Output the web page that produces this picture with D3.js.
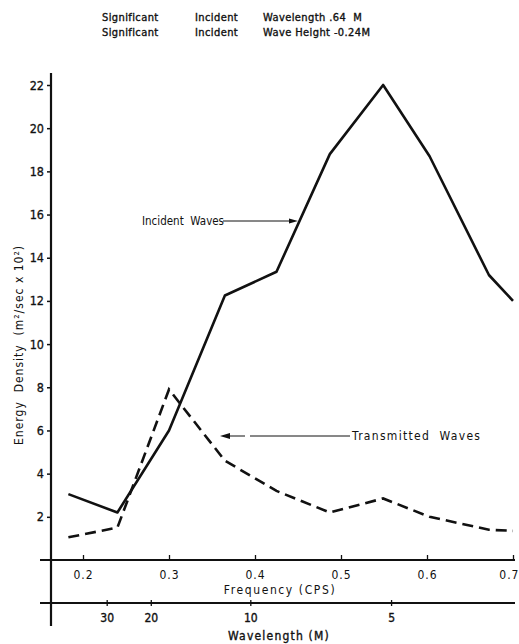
<!DOCTYPE html>
<html>
<head>
<meta charset="utf-8">
<script src="https://cdn.jsdelivr.net/npm/d3@7"></script>
<style>
  html, body { margin: 0; padding: 0; background: #fff; }
  svg { display: block; }
  text { font-family: "DejaVu Sans Condensed", "Liberation Sans Narrow", "DejaVu Sans", sans-serif; fill: #111; white-space: pre; }
</style>
</head>
<body>
<script>
// ---- data ----
const frequencies = [0.183, 0.24, 0.30, 0.365, 0.425, 0.487, 0.549, 0.603, 0.672, 0.70];
const incidentWaves = [3.05, 2.2, 6.0, 12.25, 13.35, 18.8, 22.0, 18.7, 13.2, 12.0];
const transmittedWaves = [1.05, 1.5, 7.9, 4.6, 3.2, 2.2, 2.85, 2.0, 1.4, 1.35];
const freqTicks = [0.2, 0.3, 0.4, 0.5, 0.6, 0.7];
const freqTickLabels = ["0.2", "0.3", "0.4", "0.5", "0.6", "0.7"];
const energyTicks = [2, 4, 6, 8, 10, 12, 14, 16, 18, 20, 22];
const wavelengthTicks = [30, 20, 10, 5];
const titleLines = [
  ["Significant", "Incident", "Wavelength .64  M"],
  ["Significant", "Incident", "Wave Height -0.24M"]
];

const W = 519, H = 644;
const svg = d3.select("body").append("svg").attr("width", W).attr("height", H);

const x = d3.scaleLinear().domain([0.2, 0.7]).range([83, 513]);
const y = d3.scaleLinear().domain([0, 22]).range([560, 85]);
// deep-water dispersion: L = g / (2 pi f^2)
const freqOfWavelength = L => Math.sqrt(9.81 / (2 * Math.PI * L));

const ink = "#111";
const axisX0 = 51;

// title
const titleX = [102, 195, 263];
titleLines.forEach((line, i) => {
  line.forEach((w, j) => {
    svg.append("text").attr("x", titleX[j]).attr("y", 21 + i * 15)
      .attr("font-size", 11).attr("stroke", ink).attr("stroke-width", 0.35)
      .attr("letter-spacing", 0.4).text(w);
  });
});

// y axis
svg.append("line").attr("x1", axisX0).attr("x2", axisX0).attr("y1", 73).attr("y2", 626)
  .attr("stroke", ink).attr("stroke-width", 2.2);
const yAxis = d3.axisLeft(y).tickValues(energyTicks).tickSize(4).tickPadding(3).tickFormat(d3.format("d"));
const gy = svg.append("g").attr("transform", `translate(${axisX0},0)`).call(yAxis);
gy.select(".domain").remove();
gy.selectAll(".tick line").attr("stroke", ink).attr("stroke-width", 1.5);
gy.selectAll(".tick text").attr("font-size", 12.5).attr("fill", ink)
  .attr("stroke", ink).attr("stroke-width", 0.3)
  .style("font-family", '"DejaVu Sans Condensed", sans-serif');

svg.append("text")
  .attr("transform", "translate(23,345) rotate(-90)")
  .attr("text-anchor", "middle").attr("font-size", 12).attr("letter-spacing", 1)
  .text("Energy  Density  (m²/sec x 10²)");

// frequency axis
svg.append("line").attr("x1", 40).attr("x2", 515).attr("y1", 560).attr("y2", 560)
  .attr("stroke", ink).attr("stroke-width", 2);
const xAxis = d3.axisTop(x).tickValues(freqTicks).tickSize(5).tickFormat((d, i) => freqTickLabels[i]);
const gx = svg.append("g").attr("transform", "translate(0,560)").call(xAxis);
gx.select(".domain").remove();
gx.selectAll(".tick line").attr("stroke", ink).attr("stroke-width", 1.3);
gx.selectAll(".tick text").attr("font-size", 12).attr("fill", ink)
  .attr("y", 19).attr("dy", 0).attr("letter-spacing", 1)
  .style("font-family", '"DejaVu Sans Condensed", sans-serif');
gx.selectAll(".tick").filter(d => d === 0.7).select("text").attr("text-anchor", "end").attr("x", 6);
svg.append("text").attr("x", 280).attr("y", 594).attr("text-anchor", "middle")
  .attr("font-size", 12).attr("letter-spacing", 1.6).text("Frequency (CPS)");

// wavelength axis
svg.append("line").attr("x1", 40).attr("x2", 515).attr("y1", 603).attr("y2", 603)
  .attr("stroke", ink).attr("stroke-width", 2);
const xw = d3.scaleLinear().domain([0.2, 0.7]).range([83, 513]);
const gw = svg.append("g").attr("transform", "translate(0,603)");
gw.selectAll("line.t").data(wavelengthTicks).join("line").attr("class", "t")
  .attr("x1", d => xw(freqOfWavelength(d))).attr("x2", d => xw(freqOfWavelength(d)))
  .attr("y1", -3).attr("y2", 3).attr("stroke", ink).attr("stroke-width", 1.3);
gw.selectAll("text").data(wavelengthTicks).join("text")
  .attr("x", d => xw(freqOfWavelength(d))).attr("y", 19).attr("text-anchor", "middle")
  .attr("font-size", 12).attr("stroke", ink).attr("stroke-width", 0.35).text(d => d);
svg.append("text").attr("x", 279).attr("y", 640).attr("text-anchor", "middle")
  .attr("font-size", 12).attr("letter-spacing", 1.2).attr("stroke", ink).attr("stroke-width", 0.35)
  .text("Wavelength (M)");

// series
const line = d3.line().x((d, i) => x(frequencies[i])).y(d => y(d));
svg.append("path").datum(incidentWaves).attr("d", line)
  .attr("fill", "none").attr("stroke", ink).attr("stroke-width", 2.6).attr("stroke-linejoin", "round");
svg.append("path").datum(transmittedWaves).attr("d", line)
  .attr("fill", "none").attr("stroke", ink).attr("stroke-width", 2.6)
  .attr("stroke-dasharray", "11,6");

// annotations
svg.append("text").attr("x", 142).attr("y", 225).attr("font-size", 11.5).text("Incident  Waves");
svg.append("line").attr("x1", 223).attr("x2", 292).attr("y1", 221).attr("y2", 221)
  .attr("stroke", ink).attr("stroke-width", 1);
svg.append("path").attr("d", "M298,221 L289,218.5 L289,223.5 Z").attr("fill", ink);

svg.append("text").attr("x", 352).attr("y", 440).attr("font-size", 12).attr("letter-spacing", 1.3)
  .text("Transmitted  Waves");
svg.append("line").attr("x1", 350).attr("x2", 228).attr("y1", 436).attr("y2", 436)
  .attr("stroke", ink).attr("stroke-width", 1).attr("stroke-dasharray", "100,5,40,0");
svg.append("path").attr("d", "M220,436 L230,433 L230,439 Z").attr("fill", ink);
</script>
</body>
</html>
